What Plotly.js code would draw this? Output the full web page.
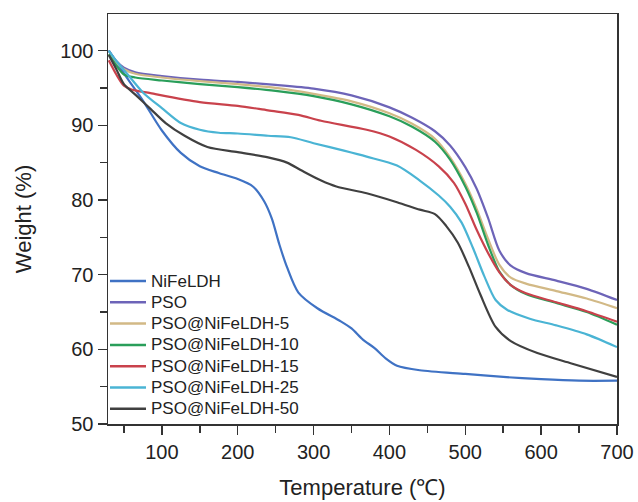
<!DOCTYPE html>
<html>
<head>
<meta charset="utf-8">
<script src="https://cdn.plot.ly/plotly-3.0.1.min.js"></script>
<style>html,body{margin:0;padding:0;background:#fff;}#chart{width:638px;height:502px;}</style>
</head>
<body>
<div id="chart"></div>
<script>
const seriesNames = ["NiFeLDH","PSO","PSO@NiFeLDH-5","PSO@NiFeLDH-10","PSO@NiFeLDH-15","PSO@NiFeLDH-25","PSO@NiFeLDH-50"];
const seriesColors = ["#3f72c4","#6d64b8","#d2b986","#2a9e5a","#c9424c","#4ab4d4","#404040"];

const tNiFeLDH = [30,40,55,75,100,125,150,175,200,220,235,245,255,265,280,305,335,350,365,380,395,410,440,500,550,600,650,700];
const wNiFeLDH = [100,98.5,96.2,93.3,89.3,86.3,84.5,83.6,82.8,81.8,79.8,77.5,74,71,67.6,65.5,63.8,62.8,61.3,60.2,58.8,57.8,57.2,56.7,56.3,56.0,55.8,55.8];

const tPSO = [30,40,50,65,100,150,200,250,300,350,400,430,460,480,500,515,530,545,560,580,620,660,700];
const wPSO = [100,98.6,97.7,97.1,96.6,96.1,95.8,95.4,94.9,94.0,92.4,91.0,89.2,87.3,84.4,81.5,77.6,73.2,71.2,70.2,69.2,68.1,66.6];

const t5 = [30,40,50,65,100,150,200,250,300,350,400,430,460,480,500,515,530,545,560,580,620,660,700];
const w5 = [99.5,98.4,97.5,96.9,96.4,95.9,95.5,95.0,94.2,93.2,91.6,90.2,88.2,85.7,82.2,78.8,74.8,71.3,69.6,68.8,67.8,66.8,65.5];

const t10 = [30,40,50,65,100,150,200,250,300,350,400,430,460,480,500,515,530,545,560,580,620,660,700];
const w10 = [99.5,98.0,96.8,96.4,96.0,95.5,95.1,94.6,93.9,92.8,91.2,89.8,87.8,85.4,81.8,78.3,74.0,70.4,68.6,67.4,66.2,65.0,63.3];

const t15 = [30,40,50,60,85,150,200,240,280,310,370,400,435,465,485,500,515,530,545,560,580,620,660,700];
const w15 = [98.7,96.8,95.3,94.8,94.3,93.1,92.6,92.0,91.4,90.6,89.4,88.5,86.7,84.5,82.3,79.5,76.0,72.9,70.3,68.6,67.5,66.3,65.1,63.7];

const t25 = [30,40,55,75,100,125,150,175,200,240,270,300,340,370,410,440,465,480,495,510,525,540,555,585,620,660,700];
const w25 = [100,98.6,96.8,94.4,92.3,90.3,89.4,89.0,88.9,88.6,88.4,87.6,86.6,85.8,84.6,82.6,80.6,79.1,77.0,73.6,69.8,66.6,65.3,64.1,63.2,62.0,60.3];

const t50 = [30,40,50,65,85,105,130,160,200,240,265,285,310,330,370,410,440,460,475,490,505,520,540,560,595,640,700];
const w50 = [99.4,97.5,95.5,94.1,92.2,90.3,88.6,87.1,86.4,85.7,85.0,83.9,82.6,81.8,80.9,79.7,78.7,78.1,76.5,74.3,71.0,67.3,63.0,61.1,59.5,58.1,56.3];

const xs = [tNiFeLDH,tPSO,t5,t10,t15,t25,t50];
const ys = [wNiFeLDH,wPSO,w5,w10,w15,w25,w50];

const traces = seriesNames.map((n,i)=>({
  x: xs[i], y: ys[i], name: n, type: 'scatter', mode: 'lines', showlegend: false,
  line: {color: seriesColors[i], width: 2.2, shape: 'spline', smoothing: 0.8}
}));

const fontFam = 'Arial, "Liberation Sans", sans-serif';

// legend drawn as shapes + annotations (plot-area fractions)
const plotTop = 14, plotBottom = 424, plotLeft = 108, plotW = 509;
const plotH = plotBottom - plotTop;
const legFirstRow = 281, legRowStep = 21.3;
const legLineX0 = (110 - plotLeft) / plotW, legLineX1 = (146 - plotLeft) / plotW, legTextX = (149 - plotLeft) / plotW;
const shapes = [], annotations = [];
seriesNames.forEach((n,i)=>{
  const yp = (plotBottom - (legFirstRow + i*legRowStep)) / plotH;
  shapes.push({type:'line', xref:'paper', yref:'paper', x0: legLineX0, x1: legLineX1, y0: yp, y1: yp,
               line:{color: seriesColors[i], width: 2.5}});
  annotations.push({xref:'paper', yref:'paper', x: legTextX, y: yp, xanchor:'left', yanchor:'middle',
                    text: n, showarrow:false, font:{size:17, family: fontFam, color:'#222'}});
});

const layout = {
  width: 638, height: 502,
  margin: {l: 108, r: 21, t: 14, b: 78},
  paper_bgcolor: '#ffffff', plot_bgcolor: '#ffffff',
  font: {family: fontFam, color: '#222', size: 20},
  showlegend: false,
  shapes: shapes, annotations: annotations,
  xaxis: {
    range: [29, 700], showgrid: false, zeroline: false,
    showline: true, linecolor: '#333', linewidth: 1.5, mirror: true,
    ticks: 'outside', ticklen: 9, tickwidth: 1.5, tickcolor: '#333',
    tick0: 0, dtick: 100,
    minor: {dtick: 50, tick0: 0, ticks: 'outside', ticklen: 7, tickwidth: 1.5, tickcolor: '#333', showgrid: false},
    tickfont: {size: 20, family: fontFam, color: '#222'},
    title: {text: 'Temperature (℃)', font: {size: 22, family: fontFam, color: '#222'}, standoff: 18}
  },
  yaxis: {
    range: [50, 104.9], showgrid: false, zeroline: false,
    showline: true, linecolor: '#333', linewidth: 1.5, mirror: true,
    ticks: 'outside', ticklen: 9, tickwidth: 1.5, tickcolor: '#333',
    tick0: 0, dtick: 10,
    minor: {dtick: 5, tick0: 0, ticks: 'outside', ticklen: 7, tickwidth: 1.5, tickcolor: '#333', showgrid: false},
    tickfont: {size: 20, family: fontFam, color: '#222'},
    title: {text: 'Weight (%)', font: {size: 22, family: fontFam, color: '#222'}, standoff: 22}
  }
};
Plotly.newPlot('chart', traces, layout, {displayModeBar: false, staticPlot: true});
</script>
</body>
</html>
